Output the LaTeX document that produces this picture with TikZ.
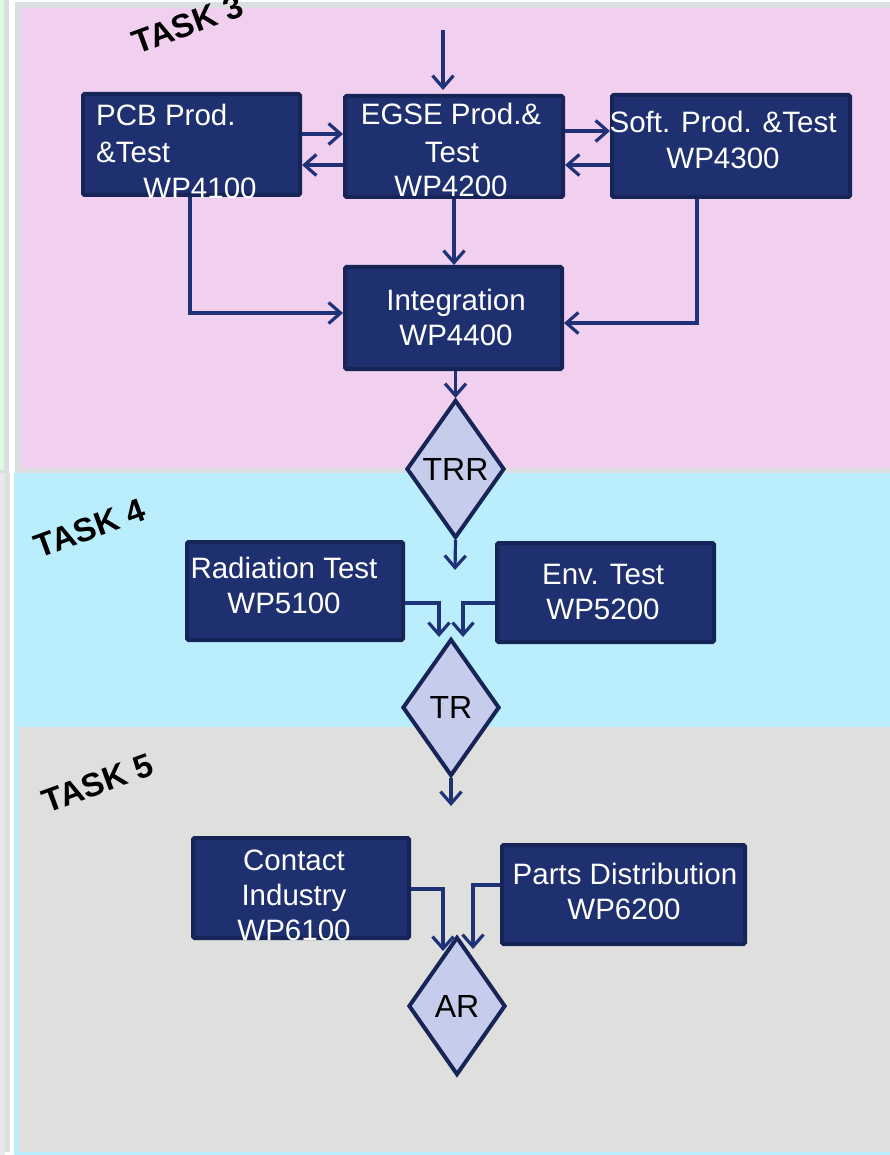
\documentclass[tikz,border=0pt]{standalone}
\usepackage{fontspec}
\setmainfont{Liberation Sans}
\usetikzlibrary{arrows.meta,shapes.geometric}
\definecolor{pinkbg}{HTML}{F0D0EE}
\definecolor{cyanbg}{HTML}{BAEEFD}
\definecolor{greybg}{HTML}{DFDFDD}
\definecolor{framec}{HTML}{DCDFE2}
\definecolor{leftgreen}{HTML}{DDFCDD}
\definecolor{leftgrey}{HTML}{E8E9EA}
\definecolor{navyfill}{HTML}{1F3070}
\definecolor{navyline}{HTML}{172457}
\definecolor{arrowc}{HTML}{1F3277}
\definecolor{diafill}{HTML}{C6CDEC}
\begin{document}
\begin{tikzpicture}[x=1pt,y=-1pt,
  box/.style={draw=navyline, fill=navyfill, line width=4pt, rounded corners=1.5pt, inner sep=0pt},
  wt/.style={text=white, font=\fontsize{29.5}{35}\selectfont, inner sep=0pt, text height=21pt, text depth=0pt},
  dia/.style={diamond, draw=navyline, fill=diafill, line width=4pt, inner sep=0pt, text=black, font=\fontsize{32}{36}\selectfont},
  conn/.style={draw=arrowc, line width=3.2pt, -{Straight Barb[length=12pt,width=21pt,line width=3.2pt]}},
  task/.style={font=\fontsize{33}{33}\selectfont\bfseries, rotate=20, inner sep=0pt}
]
\useasboundingbox (0,0) rectangle (890,1155);
\fill[white] (0,0) rectangle (890,1155);
% left strip
\fill[framec] (0,0) rectangle (9,473);
\fill[leftgreen] (0,0) rectangle (4,470);
\fill[leftgrey] (0,473) rectangle (5,1155);
\fill[framec] (5,473) rectangle (10,1152);
% task areas
\fill[framec] (15,2) rectangle (890,473);
\fill[pinkbg] (21,8) rectangle (890,468);
\fill[cyanbg] (14,473) rectangle (890,1155);
\fill[greybg] (19,727) rectangle (890,1152);

% task labels
\node[task] (task3) at (188,24) {TASK 3};
\node[task] (task4) at (90,528) {TASK 4};
\node[task] (task5) at (98,783) {TASK 5};

% boxes
\node[box, minimum width=217, minimum height=101] (pcb) at (191.5,144.5) {};
\node[box, minimum width=218, minimum height=101] (egse) at (454,146.5) {};
\node[box, minimum width=238, minimum height=102] (soft) at (731,146) {};
\node[box, minimum width=217, minimum height=102] (integ) at (453.5,318) {};
\node[dia, minimum width=98, minimum height=138] (trr) at (455.5,469) {TRR};
\node[box, minimum width=216, minimum height=98] (rad) at (295,591) {};
\node[box, minimum width=217, minimum height=99] (env) at (605.5,592.5) {};
\node[dia, minimum width=97, minimum height=137] (tr) at (451,707.5) {TR};
\node[box, minimum width=216, minimum height=100] (contact) at (301,888) {};
\node[box, minimum width=243, minimum height=99] (parts) at (623.5,894.5) {};
\node[dia, minimum width=97, minimum height=138] (ar) at (457,1006) {AR};

% box texts
\node[wt, anchor=west] (pcb1) at (96,115) {PCB Prod.};
\node[wt, anchor=west] (pcb2) at (96,152) {\&Test};
\node[wt] (pcb3) at (200,188) {WP4100};
\node[wt] (egse1) at (451,114) {EGSE Prod.\&};
\node[wt] (egse2) at (452,152) {Test};
\node[wt] (egse3) at (451,186) {WP4200};
\node[wt] (soft1) at (723,122) {Soft. Prod. \&Test};
\node[wt] (soft2) at (723,158) {WP4300};
\node[wt] (integ1) at (456,300) {Integration};
\node[wt] (integ2) at (456,335) {WP4400};
\node[wt] (rad1) at (284,568) {Radiation Test};
\node[wt] (rad2) at (284,603) {WP5100};
\node[wt] (env1) at (603,574) {Env. Test};
\node[wt] (env2) at (603,609) {WP5200};
\node[wt] (cont1) at (294,860) {Contact};
\node[wt] (cont2) at (294,895) {Industry};
\node[wt] (cont3) at (294,930) {WP6100};
\node[wt] (parts1) at (625,874) {Parts Distribution};
\node[wt] (parts2) at (624,909) {WP6200};

% connectors
\coordinate (topin) at (443,30);
\coordinate (trrout) at (455,570);
\coordinate (trout) at (451,806);
\draw[conn, shorten >=4pt] (topin) -- (topin |- egse.north);
\draw[conn] ([yshift=10.5pt]pcb.east) -- ([yshift=10.5pt]pcb.east -| egse.west);
\draw[conn] ([yshift=-18.5pt]egse.west) -- ([yshift=-18.5pt]egse.west -| pcb.east);
\draw[conn] ([yshift=15.5pt]egse.east) -- ([yshift=15.5pt]egse.east -| soft.west);
\draw[conn] ([yshift=-19pt]soft.west) -- ([yshift=-19pt]soft.west -| egse.east);
\draw[conn] (egse.south) -- (egse.south |- integ.north);
\draw[conn] ([xshift=-1.5pt]pcb.south) |- ([yshift=5pt]integ.west);
\draw[conn] ([xshift=-34pt]soft.south) |- ([yshift=-5pt]integ.east);
\draw[conn] (trr.north |- integ.south) -- (trr.north);
\draw[conn] (trr.south) -- (trrout);
\draw[conn] ([yshift=-12pt]rad.east) -| ([xshift=-12pt]tr.north);
\draw[conn] ([yshift=-10.5pt]env.west) -| ([xshift=12pt]tr.north);
\draw[conn] (tr.south) -- (trout);
\draw[conn] ([yshift=-1pt]contact.east) -| ([xshift=-14pt,yshift=-16pt]ar.north);
\draw[conn] ([yshift=9.5pt]parts.west) -| ([xshift=16pt,yshift=-14pt]ar.north);
\end{tikzpicture}
\end{document}
